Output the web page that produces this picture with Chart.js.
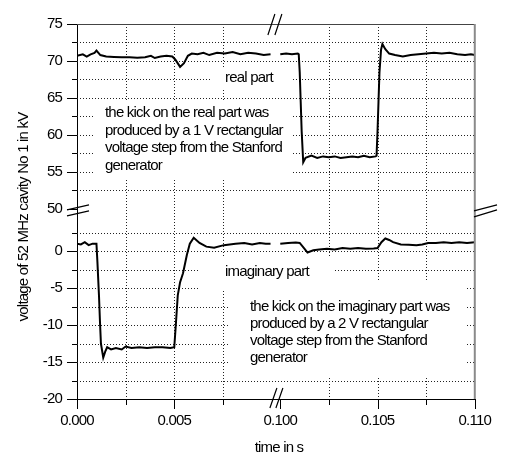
<!DOCTYPE html>
<html>
<head>
<meta charset="utf-8">
<script src="https://cdn.jsdelivr.net/npm/chart.js@4.4.0/dist/chart.umd.min.js"></script>
<style>
  html, body { margin: 0; padding: 0; background: #fff; }
  #c { display: block; }
</style>
</head>
<body>
<canvas id="c" width="506" height="456"></canvas>
<script>
// both axes are broken: time 0 ... 0.01 s then 0.100 ... 0.110 s,
// voltage -20 ... 2.5 kV then 50 ... 75 kV

// real part, before and after the time break (s, kV)
const realLeftT = [0, 0.0003, 0.0005, 0.0007, 0.0009, 0.001, 0.0012, 0.0015, 0.0019, 0.0023, 0.0027, 0.0031, 0.0035, 0.0038, 0.004, 0.0043, 0.0046, 0.0049, 0.00505, 0.0053, 0.0055, 0.0057, 0.0059, 0.0062, 0.0065, 0.0068, 0.0072, 0.0076, 0.008, 0.0084, 0.0088, 0.0092, 0.0096, 0.00995];
const realLeftV = [70.7, 70.9, 70.6, 70.9, 71.1, 71.4, 70.8, 70.6, 70.55, 70.5, 70.5, 70.45, 70.5, 70.7, 70.4, 70.6, 70.7, 70.6, 70.2, 69.2, 69.7, 70.7, 71.0, 70.9, 71.1, 70.8, 71.1, 71.0, 71.2, 70.9, 71.1, 71.0, 70.8, 70.9];
const realRightT = [0.1, 0.1003, 0.1006, 0.1009, 0.10095, 0.101, 0.10105, 0.1011, 0.10118, 0.1013, 0.1016, 0.1019, 0.1022, 0.1025, 0.1028, 0.1031, 0.1034, 0.1037, 0.104, 0.1043, 0.1046, 0.1049, 0.10495, 0.105, 0.10505, 0.1051, 0.10518, 0.10525, 0.1054, 0.1056, 0.1059, 0.1063, 0.1067, 0.1071, 0.1075, 0.1079, 0.1083, 0.1087, 0.1091, 0.1095, 0.1098, 0.11];
const realRightV = [70.9, 71.0, 70.9, 71.0, 70.9, 68.5, 64.5, 60.5, 56.3, 56.9, 57.2, 56.9, 57.1, 57.0, 57.1, 56.9, 57.0, 57.1, 57.0, 57.2, 57.0, 57.1, 57.2, 60.5, 64.5, 68.5, 71.5, 72.3, 71.6, 71.0, 70.8, 70.6, 70.8, 70.9, 71.0, 71.1, 71.0, 71.1, 70.9, 70.8, 70.9, 70.8];

// imaginary part
const imagLeftT = [0, 0.0002, 0.0004, 0.0006, 0.0008, 0.001, 0.00105, 0.00113, 0.00118, 0.00123, 0.00135, 0.00145, 0.00155, 0.00175, 0.002, 0.0023, 0.0025, 0.0028, 0.0032, 0.0036, 0.004, 0.0044, 0.0048, 0.005, 0.00508, 0.00518, 0.0053, 0.00545, 0.00565, 0.0058, 0.006, 0.0063, 0.00665, 0.00705, 0.00755, 0.00815, 0.0086, 0.009, 0.0094, 0.0097, 0.00995];
const imagLeftV = [1.0, 0.9, 1.2, 0.8, 1.0, 1.0, -1.5, -6.0, -9.5, -12.5, -14.4, -13.6, -13.0, -13.3, -13.1, -13.3, -12.9, -13.1, -13.0, -13.1, -13.0, -13.0, -13.1, -13.0, -10.0, -6.0, -4.2, -3.0, -0.5, 1.0, 1.8, 1.1, 0.6, 0.45, 0.8, 1.0, 1.1, 0.9, 1.1, 1.0, 1.0];
const imagRightT = [0.1, 0.1004, 0.1008, 0.101, 0.10125, 0.1014, 0.1017, 0.102, 0.1024, 0.1028, 0.1032, 0.1036, 0.104, 0.1044, 0.1048, 0.105, 0.1052, 0.1054, 0.1056, 0.1058, 0.1062, 0.1066, 0.107, 0.1073, 0.1076, 0.108, 0.1084, 0.1088, 0.1092, 0.1096, 0.11];
const imagRightV = [1.0, 1.1, 1.15, 1.1, 0.3, -0.2, 0.1, 0.2, 0.3, 0.2, 0.4, 0.3, 0.4, 0.3, 0.35, 0.4, 1.2, 1.7, 1.5, 1.2, 0.9, 0.85, 0.8, 0.9, 1.1, 1.1, 1.2, 1.1, 1.2, 1.1, 1.2];

const xTickValues = [0, 0.0025, 0.005, 0.0075, 0.1, 0.1025, 0.105, 0.1075, 0.11];
const xTickLabels = ['0.000', '', '0.005', '', '0.100', '', '0.105', '', '0.110'];
const yTickValues = [-20, -17.5, -15, -12.5, -10, -7.5, -5, -2.5, 0, 2.5, 50, 52.5, 55, 57.5, 60, 62.5, 65, 67.5, 70, 72.5, 75];
const yTickLabels = ['-20', '', '-15', '', '-10', '', '-5', '', '0', '', '50', '', '55', '', '60', '', '65', '', '70', '', '75'];

const realNote = ['the kick on the real part was', 'produced by a 1 V rectangular', 'voltage step from the Stanford', 'generator'];
const imagNote = ['the kick on the imaginary part was', 'produced by a 2 V rectangular', 'voltage step from the Stanford', 'generator'];

// broken axes -> one continuous linear axis each
const X_GAP = 0.00045;
const mapT = t => (t < 0.05 ? t : t - 0.1 + 0.01 + X_GAP);
const Y_SHIFT = 44.3;
const mapV = v => (v > 25 ? v - Y_SHIFT : v);

function trace(tl, vl, tr, vr) {
  const pts = tl.map((t, i) => ({ x: mapT(t), y: mapV(vl[i]) }));
  pts.push({ x: 0.0102, y: null });
  tr.forEach((t, i) => pts.push({ x: mapT(t), y: mapV(vr[i]) }));
  return pts;
}

const FONT = 'Liberation Sans, Arial, sans-serif';
Chart.defaults.font.family = FONT;
Chart.defaults.font.size = 15;
Chart.defaults.color = '#000';

// grid lines not drawn at the frame edges and at the 50 kV break
const hiddenX = [0, 0.1, 0.11];
const hiddenY = [-20, 50, 75];

const decorations = {
  id: 'decorations',
  beforeDraw(chart) {
    chart.ctx.letterSpacing = '-0.8px';
  },
  beforeDatasetsDraw(chart) {
    const ctx = chart.ctx;
    const { left, right, top, bottom } = chart.chartArea;
    const xs = chart.scales.x, ys = chart.scales.y;
    ctx.save();

    // dotted grid
    ctx.strokeStyle = '#222';
    ctx.lineWidth = 1;
    ctx.setLineDash([1, 2]);
    ctx.beginPath();
    xTickValues.forEach(t => {
      if (hiddenX.includes(t)) return;
      const px = Math.round(xs.getPixelForValue(mapT(t))) + 0.5;
      ctx.moveTo(px, top);
      ctx.lineTo(px, bottom);
    });
    yTickValues.forEach(v => {
      if (hiddenY.includes(v)) return;
      const py = Math.round(ys.getPixelForValue(mapV(v))) + 0.5;
      ctx.moveTo(left, py);
      ctx.lineTo(right, py);
    });
    ctx.stroke();
    ctx.setLineDash([]);

    // white boxes behind the notes hide the dotted grid
    ctx.fillStyle = '#fff';
    ctx.fillRect(212, 67, 79, 21);
    ctx.fillRect(93, 101, 199, 78);
    ctx.fillRect(198, 257, 137, 32);
    ctx.fillRect(229, 281, 238, 95);

    ctx.fillStyle = '#000';
    ctx.font = '15px ' + FONT;
    ctx.textBaseline = 'middle';
    ctx.textAlign = 'left';
    ctx.fillText('real part', 225, 78);
    ctx.fillText('imaginary part', 225, 272);
    realNote.forEach((s, i) => ctx.fillText(s, 105, 113 + i * 17.6));
    imagNote.forEach((s, i) => ctx.fillText(s, 250, 307 + i * 16.8));
    ctx.restore();
  },
  afterDraw(chart) {
    const ctx = chart.ctx;
    const { left, right, top, bottom } = chart.chartArea;
    const xs = chart.scales.x, ys = chart.scales.y;
    ctx.save();
    ctx.lineCap = 'butt';

    // frame: top and right
    ctx.strokeStyle = '#444';
    ctx.lineWidth = 1;
    ctx.beginPath();
    ctx.moveTo(left, top + 0.5);
    ctx.lineTo(right, top + 0.5);
    ctx.stroke();
    ctx.strokeStyle = '#8a8a8a';
    ctx.lineWidth = 2;
    ctx.beginPath();
    ctx.moveTo(right, top);
    ctx.lineTo(right, bottom);
    ctx.stroke();

    // tick marks
    ctx.strokeStyle = '#000';
    ctx.lineWidth = 1;
    ctx.beginPath();
    yTickValues.forEach((v, i) => {
      const py = Math.round(ys.getPixelForValue(mapV(v))) + 0.5;
      const len = yTickLabels[i] ? 10 : 5;
      ctx.moveTo(left - len, py);
      ctx.lineTo(left, py);
    });
    xTickValues.forEach((t, i) => {
      const px = Math.round(xs.getPixelForValue(mapT(t))) + 0.5;
      const len = xTickLabels[i] ? 10 : 6;
      ctx.moveTo(px, bottom);
      ctx.lineTo(px, bottom + len);
    });
    ctx.stroke();

    // break marks
    ctx.lineWidth = 1.2;
    ctx.beginPath();
    const yb = ys.getPixelForValue(mapV(50));
    ctx.moveTo(67, yb + 1); ctx.lineTo(89, yb - 4);
    ctx.moveTo(67, yb + 7); ctx.lineTo(89, yb + 2);
    ctx.moveTo(474, yb + 2); ctx.lineTo(497, yb - 4);
    ctx.moveTo(474, yb + 8); ctx.lineTo(497, yb + 1);
    const xb = (xs.getPixelForValue(mapT(0.01)) + xs.getPixelForValue(mapT(0.1))) / 2;
    ctx.moveTo(xb - 6, bottom + 9); ctx.lineTo(xb + 1, bottom - 11);
    ctx.moveTo(xb, bottom + 9); ctx.lineTo(xb + 7, bottom - 11);
    ctx.moveTo(xb - 8, top + 11); ctx.lineTo(xb - 1, top - 10);
    ctx.moveTo(xb - 1, top + 11); ctx.lineTo(xb + 6, top - 10);
    ctx.stroke();

    // axis titles
    ctx.fillStyle = '#000';
    ctx.font = '15px ' + FONT;
    ctx.textAlign = 'center';
    ctx.textBaseline = 'alphabetic';
    ctx.fillText('time in s', 279, 452);
    ctx.translate(28, 217);
    ctx.rotate(-Math.PI / 2);
    ctx.fillText('voltage of 52 MHz cavity No 1 in kV', 0, 0);
    ctx.restore();
    ctx.letterSpacing = '0px';
  }
};

new Chart(document.getElementById('c'), {
  type: 'line',
  data: {
    datasets: [
      {
        label: 'real part',
        data: trace(realLeftT, realLeftV, realRightT, realRightV),
        borderColor: '#000',
        borderWidth: 2,
        pointRadius: 0,
        tension: 0,
        spanGaps: false
      },
      {
        label: 'imaginary part',
        data: trace(imagLeftT, imagLeftV, imagRightT, imagRightV),
        borderColor: '#000',
        borderWidth: 2,
        pointRadius: 0,
        tension: 0,
        spanGaps: false
      }
    ]
  },
  options: {
    responsive: false,
    animation: false,
    events: [],
    layout: { padding: { left: 0, top: 20, right: 20, bottom: 0 } },
    plugins: { legend: { display: false }, tooltip: { enabled: false } },
    scales: {
      x: {
        type: 'linear',
        min: 0,
        max: 0.01 + X_GAP + 0.01,
        afterFit: s => { s.height = 57; },
        afterBuildTicks: s => { s.ticks = xTickValues.map(t => ({ value: mapT(t) })); },
        ticks: {
          autoSkip: false,
          maxRotation: 0,
          padding: 13,
          callback: (v, i) => xTickLabels[i]
        },
        grid: { display: false, drawTicks: false },
        border: { display: true, color: '#000', width: 1 }
      },
      y: {
        type: 'linear',
        min: -20,
        max: mapV(75),
        afterFit: s => { s.width = 77; },
        afterBuildTicks: s => { s.ticks = yTickValues.map(v => ({ value: mapV(v) })); },
        ticks: {
          autoSkip: false,
          padding: 15,
          callback: (v, i) => yTickLabels[i]
        },
        grid: { display: false, drawTicks: false },
        border: { display: true, color: '#000', width: 1 }
      }
    }
  },
  plugins: [decorations]
});
</script>
</body>
</html>
